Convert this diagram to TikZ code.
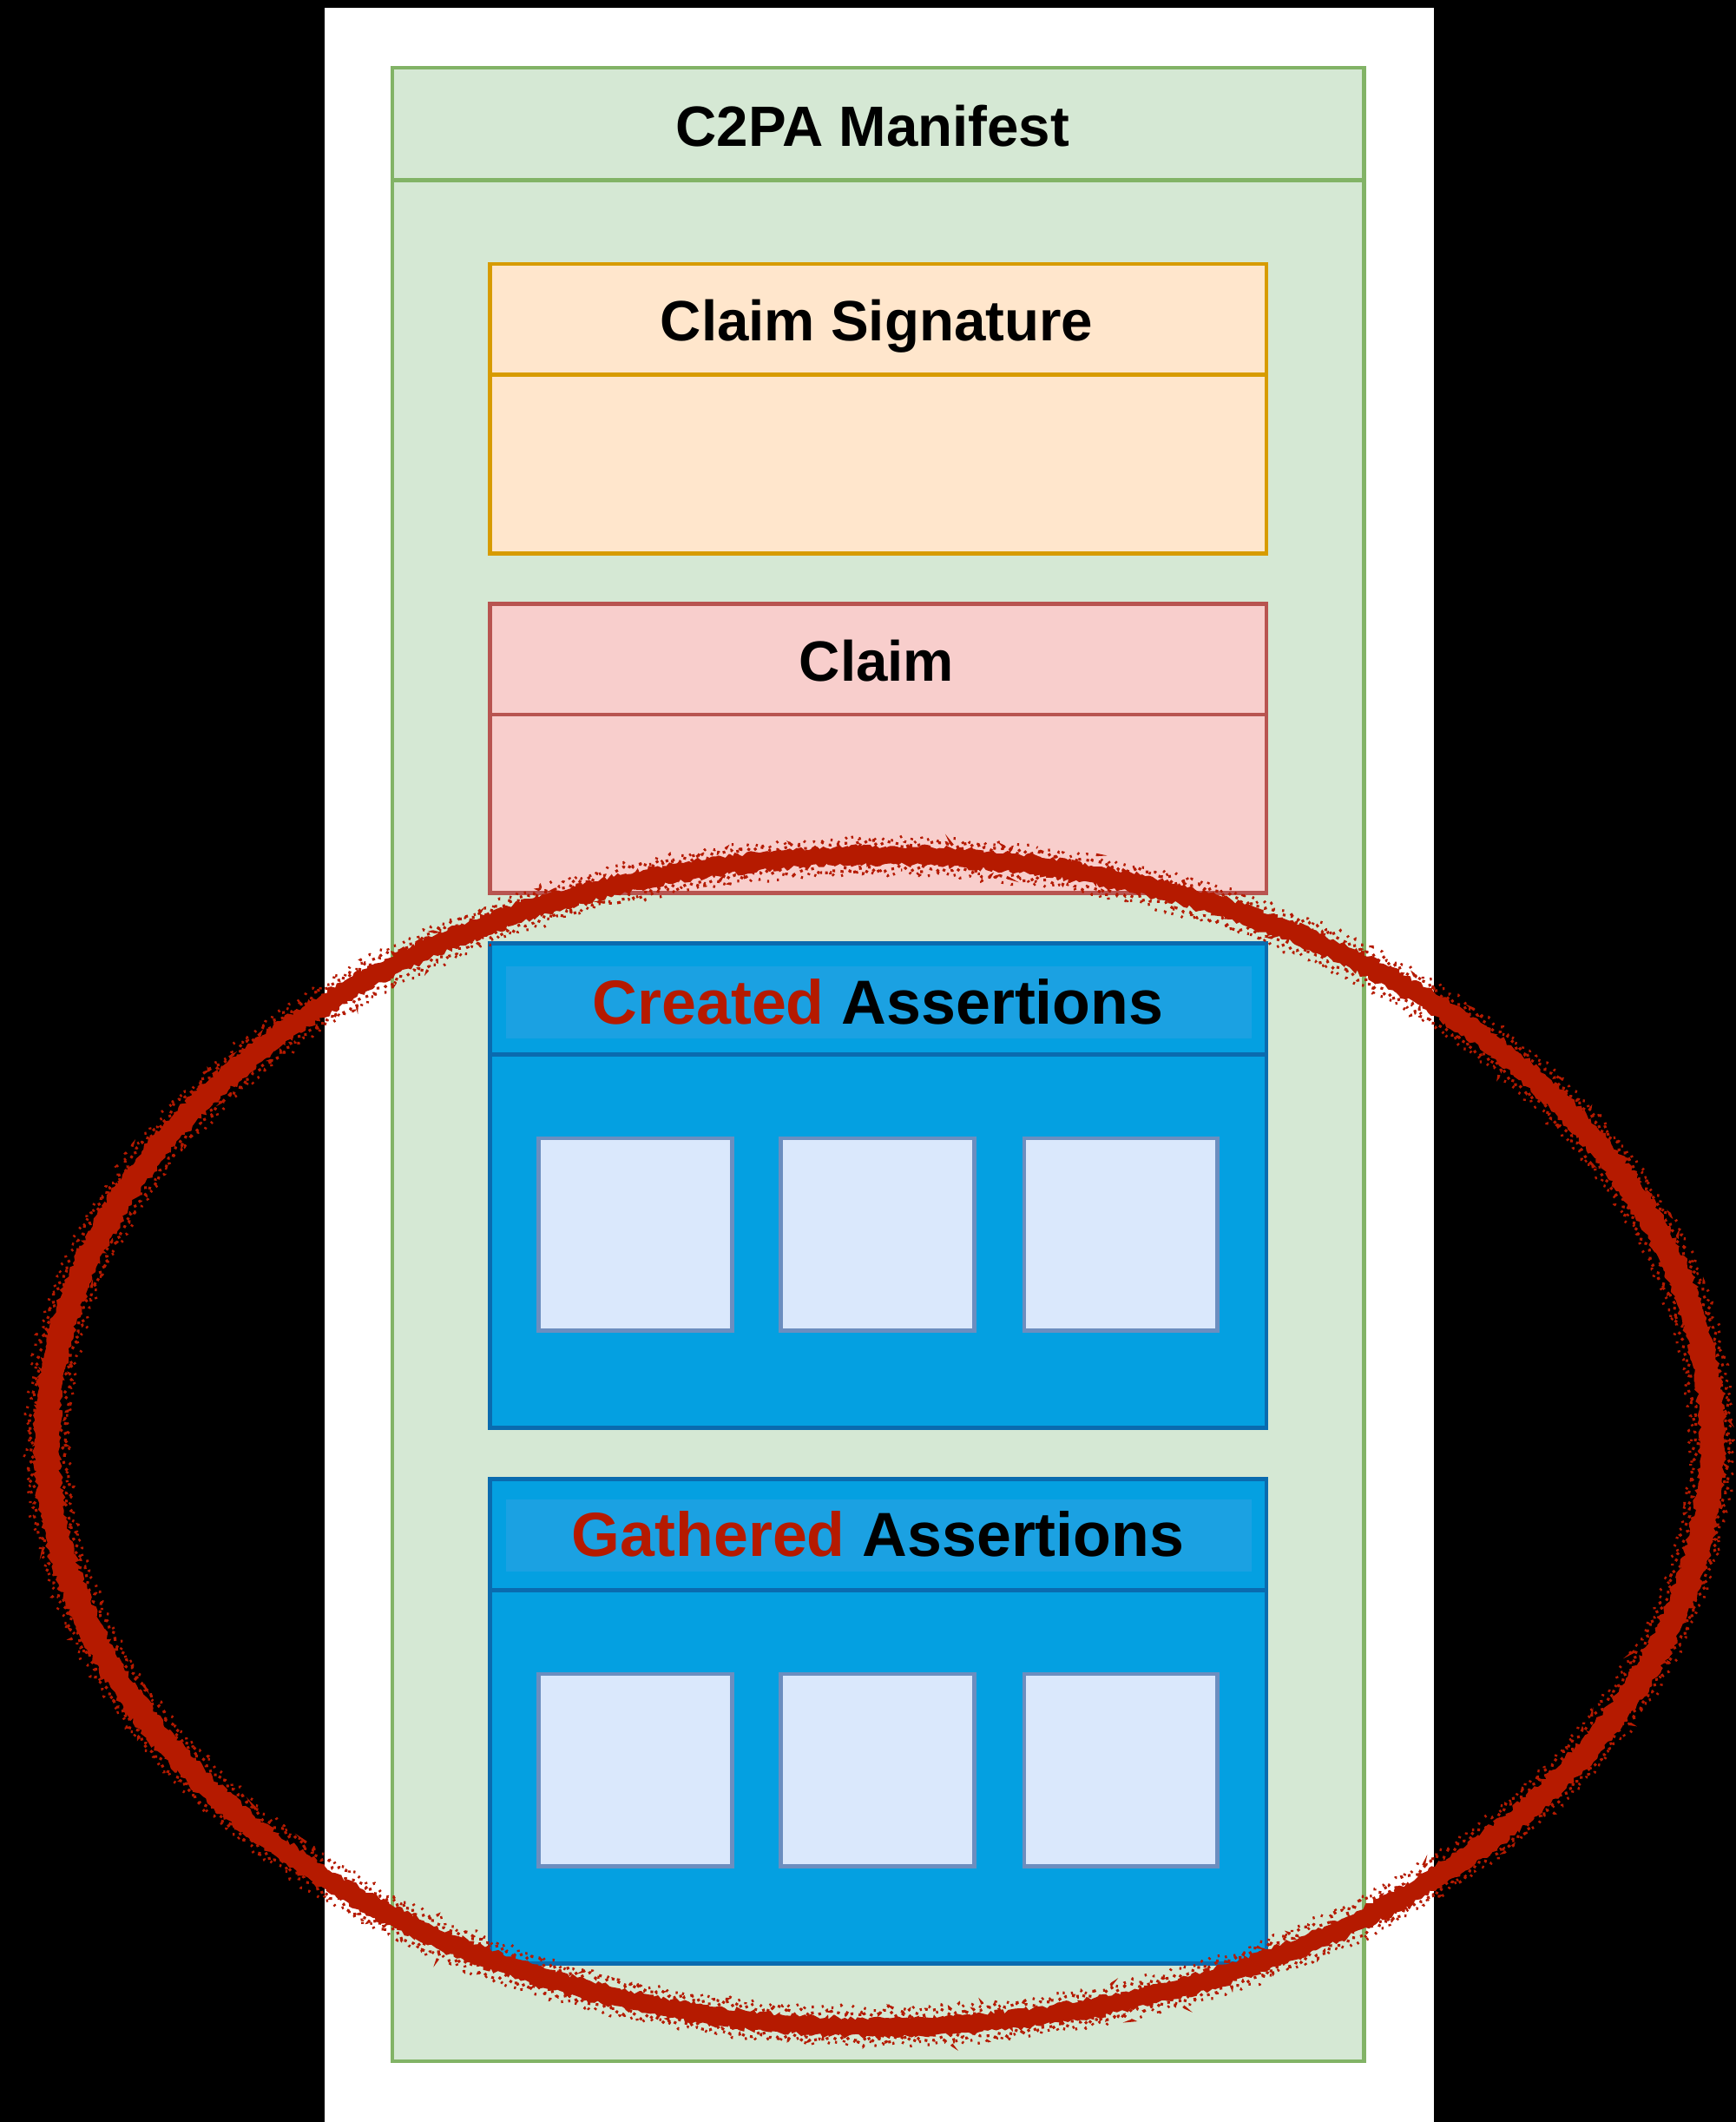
\documentclass[tikz,border=0pt]{standalone}
\usepackage{fontspec}
\setmainfont{Liberation Sans}
\usetikzlibrary{decorations.pathmorphing}

\definecolor{mgreenfill}{HTML}{D5E8D4}
\definecolor{mgreenline}{HTML}{82B366}
\definecolor{sigfill}{HTML}{FFE6CC}
\definecolor{sigline}{HTML}{D79B00}
\definecolor{claimfill}{HTML}{F8CECC}
\definecolor{claimline}{HTML}{B85450}
\definecolor{assfill}{HTML}{04A0E1}
\definecolor{asshead}{HTML}{1BA1E2}
\definecolor{assline}{HTML}{0A6BAF}
\definecolor{itemfill}{HTML}{DAE8FC}
\definecolor{itemline}{HTML}{6C8EBF}
\definecolor{markred}{HTML}{B51A00}

\tikzset{
  panel/.style={rectangle, draw, line width=3pt, inner sep=0pt, outer sep=0pt, anchor=north west},
  greenbox/.style={panel, fill=mgreenfill, draw=mgreenline},
  sigbox/.style={panel, fill=sigfill, draw=sigline},
  claimbox/.style={panel, fill=claimfill, draw=claimline},
  assbox/.style={panel, fill=assfill, draw=assline},
  headband/.style={rectangle, fill=asshead, inner sep=0pt, anchor=north west},
  itembox/.style={panel, fill=itemfill, draw=itemline, minimum width=143pt, minimum height=142pt},
  title/.style={inner sep=0pt, anchor=base, font=\bfseries\fontsize{42}{50}\selectfont},
  bigtitle/.style={inner sep=0pt, anchor=base, font=\bfseries\fontsize{46}{54}\selectfont},
  ringbody/.style={fill=markred, even odd rule, decorate,
    decoration={random steps, segment length=2.5pt, amplitude=1.8pt}},
  ringspeck/.style={draw=markred, line width=2pt, dash pattern=on 2pt off 4pt, decorate,
    decoration={random steps, segment length=3pt, amplitude=3pt}},
}

\begin{document}
\begin{tikzpicture}[x=1pt, y=-1pt]
  \pgfmathsetseed{4242}
  % page and background
  \useasboundingbox (0,0) rectangle (1283,1568);
  \fill[black] (0,0) rectangle (1283,1568);
  \fill[white] (240,6) rectangle (1060,1568);

  % manifest container
  \node[greenbox, minimum width=718pt, minimum height=1473pt] (manifest) at (290,50) {};
  \draw[mgreenline, line width=3pt] ([yshift=-83pt]manifest.north west) -- ([yshift=-83pt]manifest.north east);
  \node[title] (manifesttitle) at (645,108) {C2PA Manifest};

  % claim signature
  \node[sigbox, minimum width=574pt, minimum height=214pt] (sig) at (362,195) {};
  \draw[sigline, line width=3pt] ([yshift=-82pt]sig.north west) -- ([yshift=-82pt]sig.north east);
  \node[title] (sigtitle) at (648,252) {Claim Signature};

  % claim
  \node[claimbox, minimum width=574pt, minimum height=214pt] (claim) at (362,446) {};
  \draw[claimline, line width=3pt] ([yshift=-82pt]claim.north west) -- ([yshift=-82pt]claim.north east);
  \node[title] (claimtitle) at (648,503) {Claim};

  % created assertions
  \node[assbox, minimum width=574pt, minimum height=358pt] (created) at (362,697) {};
  \node[headband, minimum width=551pt, minimum height=53pt] (createdband) at (374,714) {};
  \draw[assline, line width=3pt] ([yshift=-82pt]created.north west) -- ([yshift=-82pt]created.north east);
  \node[bigtitle] (createdtitle) at (649,757) {\textcolor{markred}{Created} Assertions};
  \node[itembox] (c1) at (398,841) {};
  \node[itembox] (c2) at (577,841) {};
  \node[itembox] (c3) at (757,841) {};

  % gathered assertions
  \node[assbox, minimum width=574pt, minimum height=358pt] (gathered) at (362,1093) {};
  \node[headband, minimum width=551pt, minimum height=53pt] (gatheredband) at (374,1108) {};
  \draw[assline, line width=3pt] ([yshift=-82pt]gathered.north west) -- ([yshift=-82pt]gathered.north east);
  \node[bigtitle] (gatheredtitle) at (649,1150) {\textcolor{markred}{Gathered} Assertions};
  \node[itembox] (g1) at (398,1237) {};
  \node[itembox] (g2) at (577,1237) {};
  \node[itembox] (g3) at (757,1237) {};

  % hand-drawn red ring around the assertions: a ragged band plus sprayed edges
  \coordinate (ring) at (650,1065);
  \fill[ringbody] (ring) ellipse [x radius=625pt, y radius=440pt]
                  (ring) ellipse [x radius=606pt, y radius=426pt];
  \draw[ringspeck] (ring) ellipse [x radius=627pt, y radius=442pt];
  \draw[ringspeck] (ring) ellipse [x radius=603pt, y radius=423pt];
  \draw[ringspeck, dash pattern=on 1.5pt off 6pt] (ring) ellipse [x radius=630pt, y radius=445pt];
  \draw[ringspeck, dash pattern=on 1.5pt off 6pt] (ring) ellipse [x radius=600pt, y radius=420pt];
\end{tikzpicture}
\end{document}
